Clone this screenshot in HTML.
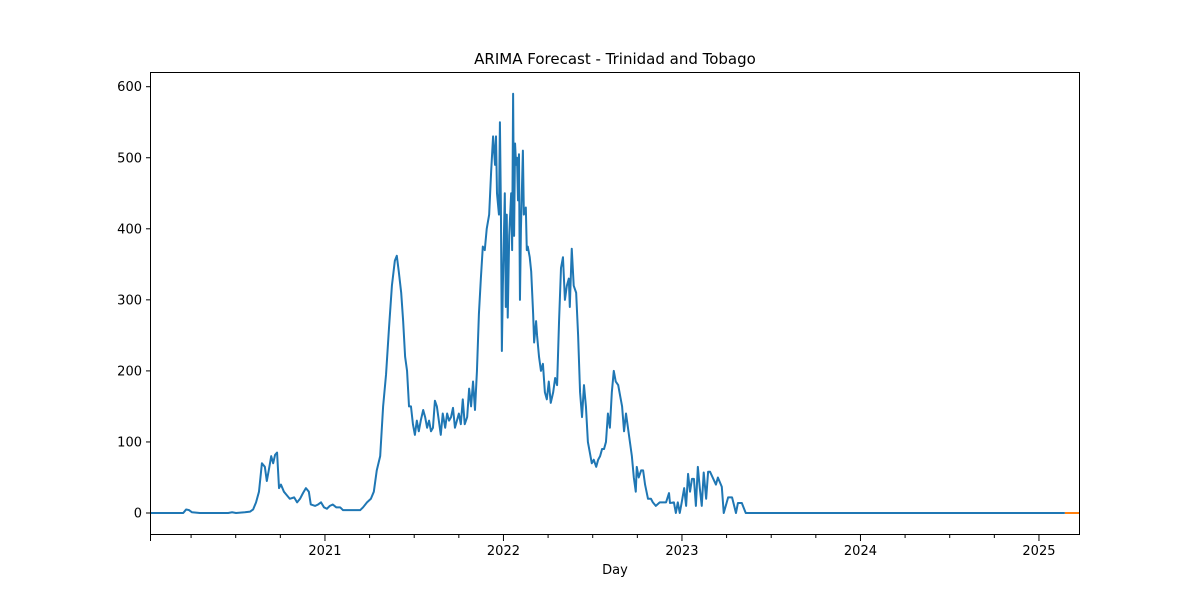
<!DOCTYPE html>
<html><head><meta charset="utf-8"><style>
body{margin:0;background:#fff;font-family:"Liberation Sans","DejaVu Sans",sans-serif;}
svg text{font-family:"DejaVu Sans","Liberation Sans",sans-serif;}
</style></head><body>
<svg id="chart" width="1200" height="600">
<rect x="0" y="0" width="1200" height="600" fill="#fff"/>
<text x="615" y="64" text-anchor="middle" font-size="15">ARIMA Forecast - Trinidad and Tobago</text>
<g id="grid"></g>
<g id="series"></g>
<rect x="150.5" y="72.5" width="929" height="462" fill="none" stroke="#000" stroke-width="1"/>
<text x="615" y="574" text-anchor="middle" font-size="13">Day</text>
</svg>
<script>
// days since series start, and daily cases
const days = [0,68,74,80,86,102,160,168,176,194,205,211,217,223,229,235,239,243,248,252,256,260,264,268,274,280,286,295,301,307,313,319,325,329,338,344,350,356,362,368,374,381,389,395,405,419,430,436,444,452,458,464,471,477,483,489,495,501,505,509,514,518,522,526,530,534,538,542,546,550,554,559,563,567,571,575,579,583,587,591,595,599,604,608,612,616,620,624,628,632,636,640,644,649,653,657,661,665,669,673,677,681,685,689,694,698,702,706,708,710,714,716,718,720,722,726,728,730,732,735,739,741,743,745,747,749,751,753,755,757,759,763,765,769,771,773,777,780,784,786,790,792,796,800,804,808,812,816,820,825,829,833,837,841,845,849,853,857,859,863,867,872,876,880,884,888,892,896,900,904,908,913,917,921,925,929,933,937,941,945,949,953,958,962,966,970,974,978,982,986,990,994,996,1000,1005,1009,1013,1019,1025,1029,1035,1043,1056,1062,1064,1072,1076,1080,1084,1088,1093,1097,1101,1105,1109,1113,1117,1121,1125,1129,1133,1138,1142,1146,1158,1162,1170,1174,1183,1191,1199,1203,1211,1219,1221,1872];
const cases = [0,0,5,4,1,0,0,1,0,1,2,5,15,30,70,65,45,60,80,70,82,85,35,40,30,25,20,22,15,20,28,35,30,12,10,12,15,8,6,10,12,8,8,4,4,4,4,8,15,20,30,60,80,150,195,260,320,355,362,340,310,270,220,200,150,150,125,110,130,115,130,145,135,120,130,115,120,158,150,130,110,140,120,140,130,135,148,120,130,140,125,160,125,135,175,150,185,145,200,280,330,375,370,400,420,480,530,490,530,450,420,550,430,228,320,450,290,420,275,390,450,370,590,390,520,490,500,440,505,300,400,510,420,430,370,375,360,340,280,240,270,250,220,200,210,170,160,185,155,170,190,180,270,345,360,300,320,330,290,372,320,310,250,170,135,180,150,100,85,70,75,65,75,80,90,90,100,140,120,170,200,185,180,165,150,115,140,120,100,80,50,30,65,50,60,60,40,20,20,15,10,15,15,28,14,15,0,15,0,15,35,10,55,30,48,48,10,65,35,10,57,20,58,58,40,50,37,0,22,22,0,14,14,0,0,0];
const forecastDays = [1872,1903];
const forecastVals = [0,0];
const yTicks = [0,100,200,300,400,500,600];
const yearLabels = [2021,2022,2023,2024,2025];

const NS="http://www.w3.org/2000/svg";
const xS = d => 150 + d*0.48871;
const yS = v => 513 - v*0.7105;
const yearDay = yr => 358 + (yr-2021)*365.25;
const grid=document.getElementById('grid'), ser=document.getElementById('series');
function mk(tag,attrs,parent){const e=document.createElementNS(NS,tag);for(const k in attrs)e.setAttribute(k,attrs[k]);parent.appendChild(e);return e;}

yTicks.forEach(v=>{
  const y=yS(v);
  const t=mk('line',{x1:146,x2:150,y1:y,y2:y,stroke:'#000'},grid);
  
  
  const l=mk('text',{x:142,y:y+4.5,'text-anchor':'end','font-size':13},grid);
  l.textContent=v;
  
  
});
for(let q=2020;q<=2025.25;q+=0.25){
  const x=xS(yearDay(q)); if(x<149||x>1081) continue;
  const major=Math.abs(q-Math.round(q))<1e-6;
  const t=mk('line',{x1:x,x2:x,y1:535,y2:major?541:538,stroke:'#000'},grid);
  
  
}
const t0=mk('line',{x1:150.5,x2:150.5,y1:535,y2:541,stroke:'#000'},grid);


yearLabels.forEach(yr=>{
  const l=mk('text',{x:xS(yearDay(yr)),y:555,'text-anchor':'middle','font-size':13},grid);
  l.textContent=yr;
  
  
});
const p=mk('polyline',{points:days.map((d,i)=>xS(d)+','+yS(cases[i])).join(' '),fill:'none',stroke:'#1f77b4','stroke-width':2,'stroke-linejoin':'round'},ser);


const f=mk('polyline',{points:forecastDays.map((d,i)=>xS(d)+','+yS(forecastVals[i])).join(' '),fill:'none',stroke:'#ff7f0e','stroke-width':2},ser);


</script>
</body></html>
